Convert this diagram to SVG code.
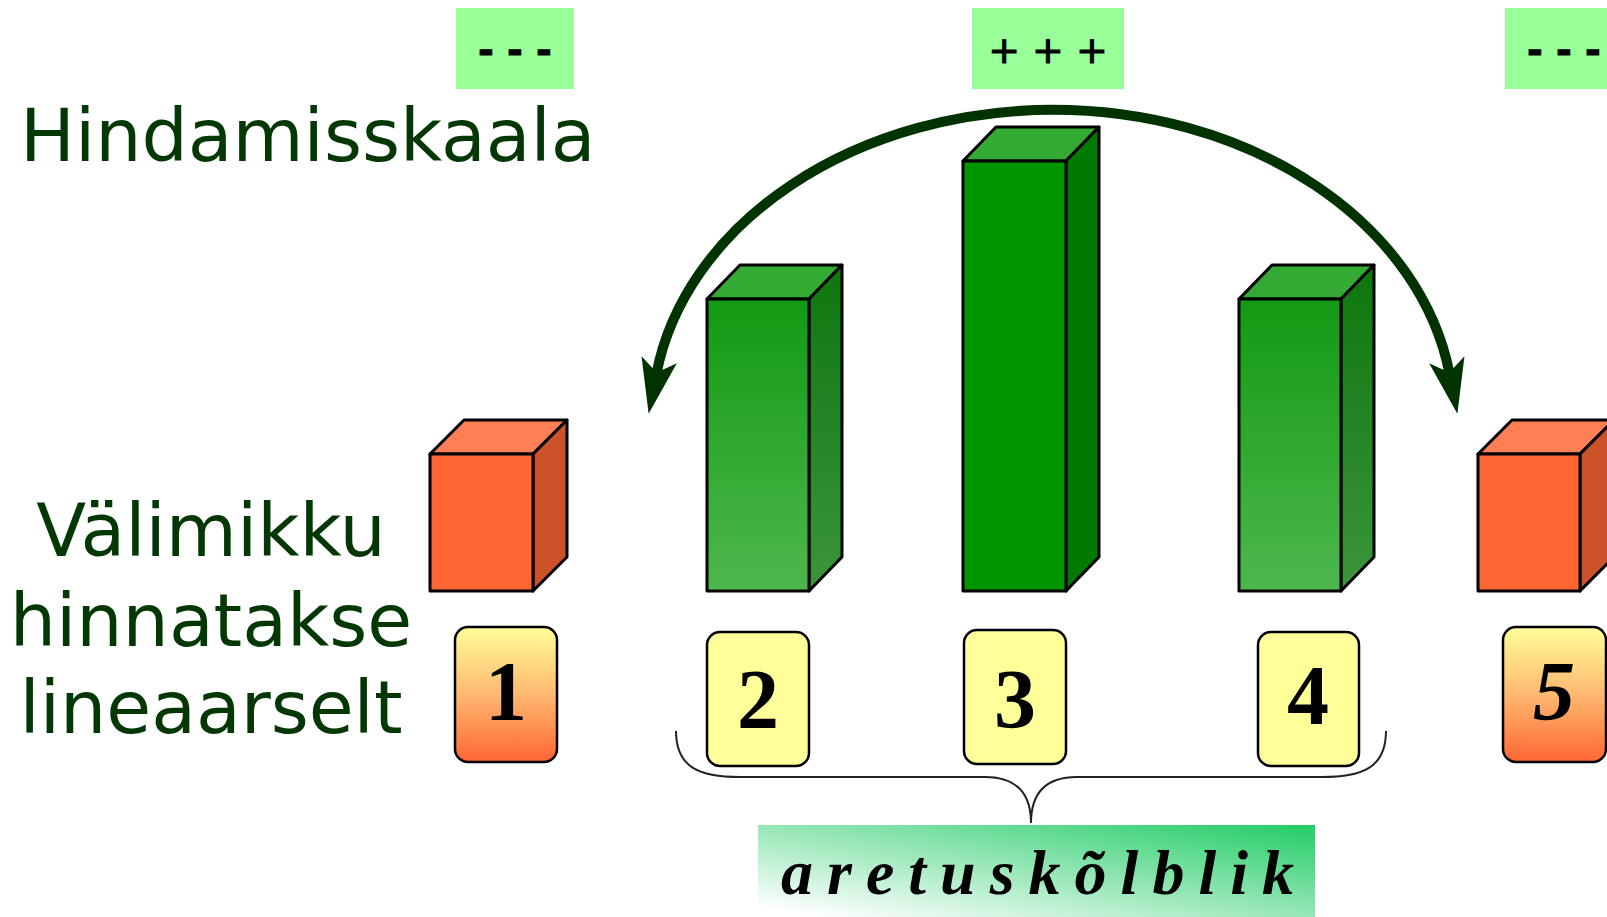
<svg xmlns="http://www.w3.org/2000/svg" width="1607" height="917" viewBox="0 0 1607 917">
<defs>
<linearGradient id="gBar" x1="0" y1="0" x2="0" y2="1"><stop offset="0" stop-color="#139913"/><stop offset="1" stop-color="#4DB84D"/></linearGradient>
<linearGradient id="gBarSide" x1="0" y1="0" x2="0" y2="1"><stop offset="0" stop-color="#0E760E"/><stop offset="1" stop-color="#3C953C"/></linearGradient>
<linearGradient id="gOrangeLbl" x1="0" y1="0" x2="0" y2="1"><stop offset="0" stop-color="#FFFF99"/><stop offset="0.5" stop-color="#FFB870"/><stop offset="1" stop-color="#FF6633"/></linearGradient>
<linearGradient id="gBanner" x1="0" y1="1" x2="1" y2="0"><stop offset="0.05" stop-color="#FFFFFF"/><stop offset="1" stop-color="#22CC66"/></linearGradient>
<marker id="arrowHead" markerUnits="userSpaceOnUse" markerWidth="64" markerHeight="44" viewBox="0 -22 64 44" refX="14" refY="0" orient="auto-start-reverse">
<path d="M0,-18 L55,0 L0,18 L13,0 Z" fill="#003300"/>
</marker>
</defs>
<style>
.title{font-family:"DejaVu Sans",Verdana,sans-serif;font-size:73px;fill:#033703}
.scale{fill:#99FF99}
.scaletxt{font-family:"DejaVu Sans",Verdana,sans-serif;font-size:38px;fill:#000;stroke:#000;stroke-width:1}
.edge{stroke:#000;stroke-width:3;stroke-linejoin:round}
.lbl{stroke:#000;stroke-width:2.5}
.num{font-family:"Liberation Serif","Times New Roman",serif;font-weight:bold;font-size:84px;fill:#000;text-anchor:middle}
.banner{font-family:"Liberation Serif","Times New Roman",serif;font-weight:bold;font-style:italic;font-size:64px;fill:#000;letter-spacing:14px}
</style>
<rect width="1607" height="917" fill="#FFFFFF"/>

<g id="title-scale"><text class="title" x="20" y="161">Hindamisskaala</text></g>
<g id="title-linear">
<text class="title" x="211" y="556" text-anchor="middle">Välimikku</text>
<text class="title" x="211" y="646" text-anchor="middle">hinnatakse</text>
<text class="title" x="211" y="733" text-anchor="middle">lineaarselt</text>
</g>

<g id="score-left"><rect class="scale" x="456" y="8" width="118" height="81"/><text class="scaletxt" x="515" y="63" text-anchor="middle" font-weight="bold">- - -</text></g>
<g id="score-mid"><rect class="scale" x="972" y="8" width="152" height="81"/><text class="scaletxt" x="1048" y="63" text-anchor="middle">+ + +</text></g>
<g id="score-right"><rect class="scale" x="1505" y="8" width="118" height="81"/><text class="scaletxt" x="1564" y="63" text-anchor="middle" font-weight="bold">- - -</text></g>

<g id="bar1">
<polygon class="edge" points="430,454 464,420 567,420 533,454" fill="#FF8055"/>
<polygon class="edge" points="533,454 567,420 567,557 533,591" fill="#CC5229"/>
<rect class="edge" x="430" y="454" width="103" height="137" fill="#FF6633"/>
</g>
<g id="bar2">
<polygon class="edge" points="707,299 740,265 842,265 809,299" fill="#33AA33"/>
<polygon class="edge" points="809,299 842,265 842,557 809,591" fill="url(#gBarSide)"/>
<rect class="edge" x="707" y="299" width="102" height="292" fill="url(#gBar)"/>
</g>
<g id="bar3">
<polygon class="edge" points="963,161 996,127 1099,127 1066,161" fill="#33AA33"/>
<polygon class="edge" points="1066,161 1099,127 1099,557 1066,591" fill="#007A00"/>
<rect class="edge" x="963" y="161" width="103" height="430" fill="#009400"/>
</g>
<g id="bar4">
<polygon class="edge" points="1239,299 1272,265 1374,265 1341,299" fill="#33AA33"/>
<polygon class="edge" points="1341,299 1374,265 1374,557 1341,591" fill="url(#gBarSide)"/>
<rect class="edge" x="1239" y="299" width="102" height="292" fill="url(#gBar)"/>
</g>
<g id="bar5">
<polygon class="edge" points="1478,454 1512,420 1614,420 1580,454" fill="#FF8055"/>
<polygon class="edge" points="1580,454 1614,420 1614,557 1580,591" fill="#CC5229"/>
<rect class="edge" x="1478" y="454" width="102" height="137" fill="#FF6633"/>
</g>

<g id="label1"><rect class="lbl" x="455" y="627" width="102" height="135" rx="13" fill="url(#gOrangeLbl)"/><text class="num" x="506" y="720">1</text></g>
<g id="label2"><rect class="lbl" x="707" y="632" width="102" height="134" rx="13" fill="#FFFF99"/><text class="num" x="758" y="728">2</text></g>
<g id="label3"><rect class="lbl" x="964" y="630" width="102" height="134" rx="13" fill="#FFFF99"/><text class="num" x="1015" y="728">3</text></g>
<g id="label4"><rect class="lbl" x="1258" y="632" width="101" height="134" rx="13" fill="#FFFF99"/><text class="num" x="1308" y="724">4</text></g>
<g id="label5"><rect class="lbl" x="1503" y="627" width="103" height="135" rx="13" fill="url(#gOrangeLbl)"/><text class="num" x="1554" y="720" font-style="italic">5</text></g>

<g id="banner"><rect x="758" y="825" width="557" height="92" fill="url(#gBanner)"/><text class="banner" x="781" y="894">aretuskõlblik</text></g>

<g id="connectors">
<path d="M 656.5 373.5 A 401 310 0 0 1 1449.5 373.5" fill="none" stroke="#003300" stroke-width="10" marker-start="url(#arrowHead)" marker-end="url(#arrowHead)"/>
<path d="M 676 731 C 676 768 700 777 740 777 L 985 777 C 1018 777 1031 795 1031 823 C 1031 795 1044 777 1077 777 L 1322 777 C 1362 777 1386 768 1386 731" fill="none" stroke="#222" stroke-width="2"/>
</g>
</svg>
